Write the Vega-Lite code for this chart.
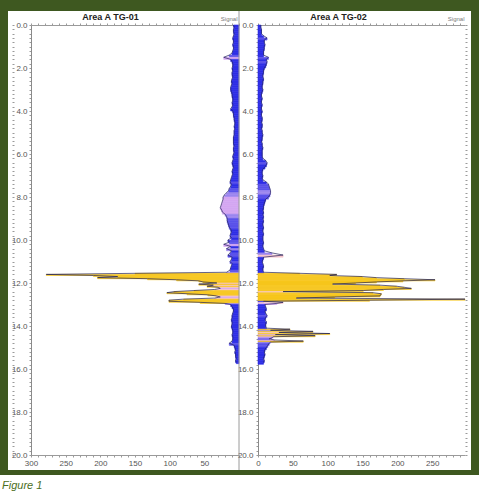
{
"$schema":"https://vega.github.io/schema/vega-lite/v6.json",
"background":"#3e5820",
"padding":{"top":10,"left":0,"right":0,"bottom":0},
"spacing":4,
"center":true,
"config":{"font":"Liberation Sans","axis":{"grid":false,"labelFont":"Liberation Sans","titleFont":"Liberation Sans","labelFlush":false,"labelOverlap":false,"domainColor":"#9a9a9a","tickColor":"#9a9a9a","labelColor":"#555555","labelFontSize":8}},
"datasets":{
"a":[{"d":0,"e":0.1,"v":8},{"d":0.1,"e":0.2,"v":7},{"d":0.2,"e":0.3,"v":8},{"d":0.3,"e":0.4,"v":8},{"d":0.4,"e":0.5,"v":7},{"d":0.5,"e":0.6,"v":8},{"d":0.6,"e":0.7,"v":9},{"d":0.7,"e":0.8,"v":8},{"d":0.8,"e":0.9,"v":8},{"d":0.9,"e":1,"v":9},{"d":1,"e":1.1,"v":8},{"d":1.1,"e":1.2,"v":8},{"d":1.2,"e":1.3,"v":9},{"d":1.3,"e":1.4,"v":10},{"d":1.4,"e":1.5,"v":14},{"d":1.5,"e":1.6,"v":22},{"d":1.6,"e":1.7,"v":12},{"d":1.7,"e":1.8,"v":10},{"d":1.8,"e":1.9,"v":9},{"d":1.9,"e":2,"v":9},{"d":2,"e":2.1,"v":10},{"d":2.1,"e":2.2,"v":9},{"d":2.2,"e":2.3,"v":10},{"d":2.3,"e":2.4,"v":10},{"d":2.4,"e":2.5,"v":9},{"d":2.5,"e":2.6,"v":10},{"d":2.6,"e":2.7,"v":11},{"d":2.7,"e":2.8,"v":10},{"d":2.8,"e":2.9,"v":11},{"d":2.9,"e":3,"v":12},{"d":3,"e":3.1,"v":12},{"d":3.1,"e":3.2,"v":11},{"d":3.2,"e":3.3,"v":10},{"d":3.3,"e":3.4,"v":10},{"d":3.4,"e":3.5,"v":9},{"d":3.5,"e":3.6,"v":9},{"d":3.6,"e":3.7,"v":10},{"d":3.7,"e":3.8,"v":9},{"d":3.8,"e":3.9,"v":10},{"d":3.9,"e":4,"v":12},{"d":4,"e":4.1,"v":9},{"d":4.1,"e":4.2,"v":8},{"d":4.2,"e":4.3,"v":8},{"d":4.3,"e":4.4,"v":7},{"d":4.4,"e":4.5,"v":7},{"d":4.5,"e":4.6,"v":6},{"d":4.6,"e":4.7,"v":6},{"d":4.7,"e":4.8,"v":7},{"d":4.8,"e":4.9,"v":6},{"d":4.9,"e":5,"v":7},{"d":5,"e":5.1,"v":7},{"d":5.1,"e":5.2,"v":7},{"d":5.2,"e":5.3,"v":8},{"d":5.3,"e":5.4,"v":8},{"d":5.4,"e":5.5,"v":8},{"d":5.5,"e":5.6,"v":8},{"d":5.6,"e":5.7,"v":7},{"d":5.7,"e":5.8,"v":8},{"d":5.8,"e":5.9,"v":8},{"d":5.9,"e":6,"v":7},{"d":6,"e":6.1,"v":8},{"d":6.1,"e":6.2,"v":9},{"d":6.2,"e":6.3,"v":8},{"d":6.3,"e":6.4,"v":9},{"d":6.4,"e":6.5,"v":10},{"d":6.5,"e":6.6,"v":9},{"d":6.6,"e":6.7,"v":8},{"d":6.7,"e":6.8,"v":9},{"d":6.8,"e":6.9,"v":10},{"d":6.9,"e":7,"v":9},{"d":7,"e":7.1,"v":10},{"d":7.1,"e":7.2,"v":11},{"d":7.2,"e":7.3,"v":12},{"d":7.3,"e":7.4,"v":13},{"d":7.4,"e":7.5,"v":11},{"d":7.5,"e":7.6,"v":12},{"d":7.6,"e":7.7,"v":14},{"d":7.7,"e":7.8,"v":15},{"d":7.8,"e":7.9,"v":18},{"d":7.9,"e":8,"v":21},{"d":8,"e":8.1,"v":23},{"d":8.1,"e":8.2,"v":23},{"d":8.2,"e":8.3,"v":24},{"d":8.3,"e":8.4,"v":25},{"d":8.4,"e":8.5,"v":26},{"d":8.5,"e":8.6,"v":27},{"d":8.6,"e":8.7,"v":25},{"d":8.7,"e":8.8,"v":24},{"d":8.8,"e":8.9,"v":20},{"d":8.9,"e":9,"v":18},{"d":9,"e":9.1,"v":17},{"d":9.1,"e":9.2,"v":17},{"d":9.2,"e":9.3,"v":16},{"d":9.3,"e":9.4,"v":15},{"d":9.4,"e":9.5,"v":14},{"d":9.5,"e":9.6,"v":12},{"d":9.6,"e":9.7,"v":11},{"d":9.7,"e":9.8,"v":12},{"d":9.8,"e":9.9,"v":13},{"d":9.9,"e":10,"v":11},{"d":10,"e":10.1,"v":16},{"d":10.1,"e":10.2,"v":14},{"d":10.2,"e":10.3,"v":22},{"d":10.3,"e":10.4,"v":12},{"d":10.4,"e":10.5,"v":18},{"d":10.5,"e":10.6,"v":11},{"d":10.6,"e":10.7,"v":13},{"d":10.7,"e":10.8,"v":16},{"d":10.8,"e":10.9,"v":10},{"d":10.9,"e":11,"v":11},{"d":11,"e":11.1,"v":13},{"d":11.1,"e":11.2,"v":10},{"d":11.2,"e":11.3,"v":11},{"d":11.3,"e":11.4,"v":12},{"d":11.4,"e":11.5,"v":13},{"d":11.5,"e":11.55,"v":18},{"d":11.55,"e":11.6,"v":150},{"d":11.6,"e":11.65,"v":278},{"d":11.65,"e":11.7,"v":210},{"d":11.7,"e":11.75,"v":175},{"d":11.75,"e":11.8,"v":204},{"d":11.8,"e":11.85,"v":132},{"d":11.85,"e":11.9,"v":90},{"d":11.9,"e":11.95,"v":58},{"d":11.95,"e":12,"v":52},{"d":12,"e":12.05,"v":32},{"d":12.05,"e":12.1,"v":58},{"d":12.1,"e":12.15,"v":37},{"d":12.15,"e":12.2,"v":46},{"d":12.2,"e":12.25,"v":30},{"d":12.25,"e":12.3,"v":27},{"d":12.3,"e":12.35,"v":35},{"d":12.35,"e":12.4,"v":65},{"d":12.4,"e":12.45,"v":94},{"d":12.45,"e":12.5,"v":104},{"d":12.5,"e":12.55,"v":75},{"d":12.55,"e":12.6,"v":45},{"d":12.6,"e":12.65,"v":33},{"d":12.65,"e":12.7,"v":27},{"d":12.7,"e":12.75,"v":35},{"d":12.75,"e":12.8,"v":80},{"d":12.8,"e":12.85,"v":101},{"d":12.85,"e":12.9,"v":101},{"d":12.9,"e":12.95,"v":56},{"d":12.95,"e":13,"v":20},{"d":13,"e":13.1,"v":12},{"d":13.1,"e":13.2,"v":10},{"d":13.2,"e":13.3,"v":8},{"d":13.3,"e":13.4,"v":8},{"d":13.4,"e":13.5,"v":9},{"d":13.5,"e":13.6,"v":10},{"d":13.6,"e":13.7,"v":10},{"d":13.7,"e":13.8,"v":11},{"d":13.8,"e":13.9,"v":10},{"d":13.9,"e":14,"v":10},{"d":14,"e":14.1,"v":11},{"d":14.1,"e":14.2,"v":10},{"d":14.2,"e":14.3,"v":9},{"d":14.3,"e":14.4,"v":9},{"d":14.4,"e":14.5,"v":10},{"d":14.5,"e":14.6,"v":9},{"d":14.6,"e":14.7,"v":9},{"d":14.7,"e":14.8,"v":10},{"d":14.8,"e":14.9,"v":14},{"d":14.9,"e":15,"v":7},{"d":15,"e":15.1,"v":6},{"d":15.1,"e":15.2,"v":5},{"d":15.2,"e":15.3,"v":6},{"d":15.3,"e":15.4,"v":5},{"d":15.4,"e":15.5,"v":5},{"d":15.5,"e":15.6,"v":4},{"d":15.6,"e":15.7,"v":5},{"d":15.7,"e":15.75,"v":4}],
"b":[{"d":0,"e":0.1,"v":4},{"d":0.1,"e":0.2,"v":4},{"d":0.2,"e":0.3,"v":5},{"d":0.3,"e":0.4,"v":5},{"d":0.4,"e":0.5,"v":5},{"d":0.5,"e":0.6,"v":8},{"d":0.6,"e":0.7,"v":13},{"d":0.7,"e":0.8,"v":9},{"d":0.8,"e":0.9,"v":9},{"d":0.9,"e":1,"v":10},{"d":1,"e":1.1,"v":9},{"d":1.1,"e":1.2,"v":9},{"d":1.2,"e":1.3,"v":8},{"d":1.3,"e":1.4,"v":8},{"d":1.4,"e":1.5,"v":8},{"d":1.5,"e":1.6,"v":15},{"d":1.6,"e":1.7,"v":12},{"d":1.7,"e":1.8,"v":13},{"d":1.8,"e":1.9,"v":12},{"d":1.9,"e":2,"v":11},{"d":2,"e":2.1,"v":9},{"d":2.1,"e":2.2,"v":8},{"d":2.2,"e":2.3,"v":8},{"d":2.3,"e":2.4,"v":7},{"d":2.4,"e":2.5,"v":7},{"d":2.5,"e":2.6,"v":8},{"d":2.6,"e":2.7,"v":7},{"d":2.7,"e":2.8,"v":7},{"d":2.8,"e":2.9,"v":6},{"d":2.9,"e":3,"v":6},{"d":3,"e":3.1,"v":7},{"d":3.1,"e":3.2,"v":6},{"d":3.2,"e":3.3,"v":5},{"d":3.3,"e":3.4,"v":5},{"d":3.4,"e":3.5,"v":6},{"d":3.5,"e":3.6,"v":5},{"d":3.6,"e":3.7,"v":5},{"d":3.7,"e":3.8,"v":6},{"d":3.8,"e":3.9,"v":5},{"d":3.9,"e":4,"v":5},{"d":4,"e":4.1,"v":6},{"d":4.1,"e":4.2,"v":5},{"d":4.2,"e":4.3,"v":5},{"d":4.3,"e":4.4,"v":6},{"d":4.4,"e":4.5,"v":6},{"d":4.5,"e":4.6,"v":5},{"d":4.6,"e":4.7,"v":6},{"d":4.7,"e":4.8,"v":6},{"d":4.8,"e":4.9,"v":5},{"d":4.9,"e":5,"v":6},{"d":5,"e":5.1,"v":6},{"d":5.1,"e":5.2,"v":7},{"d":5.2,"e":5.3,"v":6},{"d":5.3,"e":5.4,"v":6},{"d":5.4,"e":5.5,"v":5},{"d":5.5,"e":5.6,"v":6},{"d":5.6,"e":5.7,"v":6},{"d":5.7,"e":5.8,"v":7},{"d":5.8,"e":5.9,"v":6},{"d":5.9,"e":6,"v":6},{"d":6,"e":6.1,"v":6},{"d":6.1,"e":6.2,"v":6},{"d":6.2,"e":6.3,"v":7},{"d":6.3,"e":6.4,"v":11},{"d":6.4,"e":6.5,"v":13},{"d":6.5,"e":6.6,"v":12},{"d":6.6,"e":6.7,"v":10},{"d":6.7,"e":6.8,"v":7},{"d":6.8,"e":6.9,"v":6},{"d":6.9,"e":7,"v":6},{"d":7,"e":7.1,"v":7},{"d":7.1,"e":7.2,"v":6},{"d":7.2,"e":7.3,"v":7},{"d":7.3,"e":7.4,"v":12},{"d":7.4,"e":7.5,"v":15},{"d":7.5,"e":7.6,"v":16},{"d":7.6,"e":7.7,"v":17},{"d":7.7,"e":7.8,"v":18},{"d":7.8,"e":7.9,"v":18},{"d":7.9,"e":8,"v":17},{"d":8,"e":8.1,"v":15},{"d":8.1,"e":8.2,"v":11},{"d":8.2,"e":8.3,"v":10},{"d":8.3,"e":8.4,"v":9},{"d":8.4,"e":8.5,"v":8},{"d":8.5,"e":8.6,"v":8},{"d":8.6,"e":8.7,"v":7},{"d":8.7,"e":8.8,"v":8},{"d":8.8,"e":8.9,"v":7},{"d":8.9,"e":9,"v":8},{"d":9,"e":9.1,"v":7},{"d":9.1,"e":9.2,"v":8},{"d":9.2,"e":9.3,"v":7},{"d":9.3,"e":9.4,"v":7},{"d":9.4,"e":9.5,"v":8},{"d":9.5,"e":9.6,"v":7},{"d":9.6,"e":9.7,"v":7},{"d":9.7,"e":9.8,"v":8},{"d":9.8,"e":9.9,"v":7},{"d":9.9,"e":10,"v":7},{"d":10,"e":10.1,"v":7},{"d":10.1,"e":10.2,"v":8},{"d":10.2,"e":10.3,"v":7},{"d":10.3,"e":10.4,"v":7},{"d":10.4,"e":10.5,"v":8},{"d":10.5,"e":10.6,"v":9},{"d":10.6,"e":10.7,"v":20},{"d":10.7,"e":10.8,"v":36},{"d":10.8,"e":10.9,"v":8},{"d":10.9,"e":11,"v":7},{"d":11,"e":11.1,"v":6},{"d":11.1,"e":11.2,"v":7},{"d":11.2,"e":11.3,"v":8},{"d":11.3,"e":11.4,"v":7},{"d":11.4,"e":11.5,"v":7},{"d":11.5,"e":11.55,"v":8},{"d":11.55,"e":11.6,"v":60},{"d":11.6,"e":11.65,"v":113},{"d":11.65,"e":11.7,"v":103},{"d":11.7,"e":11.75,"v":150},{"d":11.75,"e":11.8,"v":170},{"d":11.8,"e":11.85,"v":210},{"d":11.85,"e":11.9,"v":254},{"d":11.9,"e":11.95,"v":208},{"d":11.95,"e":12,"v":170},{"d":12,"e":12.05,"v":140},{"d":12.05,"e":12.1,"v":107},{"d":12.1,"e":12.15,"v":175},{"d":12.15,"e":12.2,"v":199},{"d":12.2,"e":12.25,"v":210},{"d":12.25,"e":12.3,"v":220},{"d":12.3,"e":12.35,"v":180},{"d":12.35,"e":12.4,"v":151},{"d":12.4,"e":12.45,"v":36},{"d":12.45,"e":12.5,"v":165},{"d":12.5,"e":12.55,"v":177},{"d":12.55,"e":12.6,"v":176},{"d":12.6,"e":12.65,"v":175},{"d":12.65,"e":12.7,"v":110},{"d":12.7,"e":12.75,"v":55},{"d":12.75,"e":12.8,"v":297},{"d":12.8,"e":12.85,"v":160},{"d":12.85,"e":12.9,"v":8},{"d":12.9,"e":12.95,"v":36},{"d":12.95,"e":13,"v":27},{"d":13,"e":13.1,"v":10},{"d":13.1,"e":13.2,"v":11},{"d":13.2,"e":13.3,"v":12},{"d":13.3,"e":13.4,"v":10},{"d":13.4,"e":13.5,"v":11},{"d":13.5,"e":13.6,"v":13},{"d":13.6,"e":13.7,"v":11},{"d":13.7,"e":13.8,"v":10},{"d":13.8,"e":13.9,"v":12},{"d":13.9,"e":14,"v":11},{"d":14,"e":14.1,"v":11},{"d":14.1,"e":14.15,"v":12},{"d":14.15,"e":14.2,"v":46},{"d":14.2,"e":14.25,"v":18},{"d":14.25,"e":14.3,"v":79},{"d":14.3,"e":14.35,"v":30},{"d":14.35,"e":14.4,"v":103},{"d":14.4,"e":14.45,"v":25},{"d":14.45,"e":14.5,"v":82},{"d":14.5,"e":14.55,"v":22},{"d":14.55,"e":14.6,"v":20},{"d":14.6,"e":14.65,"v":16},{"d":14.65,"e":14.7,"v":24},{"d":14.7,"e":14.75,"v":65},{"d":14.75,"e":14.8,"v":18},{"d":14.8,"e":14.9,"v":16},{"d":14.9,"e":15,"v":14},{"d":15,"e":15.1,"v":12},{"d":15.1,"e":15.2,"v":10},{"d":15.2,"e":15.3,"v":9},{"d":15.3,"e":15.4,"v":10},{"d":15.4,"e":15.5,"v":9},{"d":15.5,"e":15.6,"v":8},{"d":15.6,"e":15.7,"v":9},{"d":15.7,"e":15.78,"v":8}]
},
"vconcat":[
{
"width":463,"height":459,
"view":{"fill":"white","stroke":null},
"resolve":{"scale":{"x":"independent"},"axis":{"x":"independent","y":"independent"}},
"layer":[
{
"data":{"name":"a"},
"resolve":{"axis":{"x":"independent","y":"independent"}},
"layer":[
{"mark":{"type":"rect","strokeWidth":0.6},
"encoding":{
"y":{"field":"d","type":"quantitative","scale":{"domain":[0,20],"range":[14,444],"nice":false,"zero":false},"axis":{"orient":"left","offset":-23,"tickCount":100,"tickSize":2,"labelPadding":2,"labelExpr":"datum.value % 2 === 0 ? format(datum.value, '.1f') : ''","title":null,"domainColor":"#8a8a8a"}},
"y2":{"field":"e"},
"x":{"field":"v","type":"quantitative","scale":{"domain":[300,0],"range":[23,231],"nice":false,"zero":false},"axis":{"orient":"bottom","offset":-15,"tickCount":30,"tickSize":2,"labelPadding":2,"labelExpr":"datum.value % 50 === 0 && datum.value > 0 ? datum.label : ''","title":null}},
"x2":{"datum":0},
"color":{"field":"v","type":"quantitative","scale":{"type":"threshold","domain":[13,18,22,28,45],"range":["#2e2ee6","#5a52ea","#9c86ef","#d4a6f2","#f7c6cc","#f6c61c"]},"legend":null},
"stroke":{"field":"v","type":"quantitative","scale":{"type":"threshold","domain":[13,18,22,28,45],"range":["#2e2ee6","#5a52ea","#9c86ef","#d4a6f2","#f7c6cc","#f6c61c"]},"legend":null}
}},
{"mark":{"type":"line","color":"#24245a","strokeWidth":0.7},
"encoding":{
"y":{"field":"d","type":"quantitative","scale":{"domain":[0,20],"range":[14,444],"nice":false,"zero":false},"axis":{"orient":"left","offset":-6,"tickCount":100,"tickSize":2,"labels":false,"domain":false,"title":null}},
"x":{"field":"v","type":"quantitative","scale":{"domain":[300,0],"range":[23,231],"nice":false,"zero":false},"axis":{"orient":"top","offset":-14,"tickCount":30,"tickSize":2,"labels":false,"title":"Area A TG-01","titleX":102,"titleY":-5.5,"titleBaseline":"alphabetic","titleFontSize":9,"titleFontWeight":"bold","titleColor":"#222222"}},
"order":{"field":"d","type":"quantitative"}
}},
{"data":{"values":[{"k":0}]},
"mark":{"type":"rule","color":"#9a9a9a","strokeWidth":1},
"encoding":{
"x":{"datum":0,"type":"quantitative","scale":{"domain":[300,0],"range":[23,231],"nice":false,"zero":false},"axis":{"orient":"top","offset":-14,"labels":false,"ticks":false,"domain":false,"title":"Signal","titleX":229,"titleY":-4.5,"titleAlign":"right","titleBaseline":"alphabetic","titleFontSize":6,"titleFontWeight":"normal","titleColor":"#777777"}}
}}
]
},
{
"data":{"name":"b"},
"resolve":{"axis":{"x":"independent","y":"independent"}},
"layer":[
{"mark":{"type":"rect","strokeWidth":0.6},
"encoding":{
"y":{"field":"d","type":"quantitative","scale":{"domain":[0,20],"range":[14,444],"nice":false,"zero":false},"axis":{"orient":"left","offset":-250,"tickCount":100,"tickSize":2,"labelPadding":3,"labelExpr":"datum.value % 2 === 0 ? format(datum.value, '.1f') : ''","title":null,"domainColor":"#8a8a8a"}},
"y2":{"field":"e"},
"x":{"field":"v","type":"quantitative","scale":{"domain":[0,297],"range":[250,457],"nice":false,"zero":false},"axis":{"orient":"bottom","offset":-15,"tickCount":30,"tickSize":2,"labelPadding":2,"labelExpr":"datum.value % 50 === 0 ? datum.label : ''","title":null}},
"x2":{"datum":0},
"color":{"field":"v","type":"quantitative","scale":{"type":"threshold","domain":[13,18,22,28,45],"range":["#2e2ee6","#5a52ea","#9c86ef","#d4a6f2","#f7c6cc","#f6c61c"]},"legend":null},
"stroke":{"field":"v","type":"quantitative","scale":{"type":"threshold","domain":[13,18,22,28,45],"range":["#2e2ee6","#5a52ea","#9c86ef","#d4a6f2","#f7c6cc","#f6c61c"]},"legend":null}
}},
{"mark":{"type":"line","color":"#24245a","strokeWidth":0.7},
"encoding":{
"y":{"field":"d","type":"quantitative","scale":{"domain":[0,20],"range":[14,444],"nice":false,"zero":false},"axis":{"orient":"right","offset":-6,"tickCount":100,"tickSize":2,"labels":false,"domain":false,"title":"Signal","titleAngle":0,"titleX":-1,"titleY":9.5,"titleAlign":"right","titleBaseline":"alphabetic","titleFontSize":6,"titleFontWeight":"normal","titleColor":"#777777"}},
"x":{"field":"v","type":"quantitative","scale":{"domain":[0,297],"range":[250,457],"nice":false,"zero":false},"axis":{"orient":"top","offset":-14,"tickCount":30,"tickSize":2,"labels":false,"title":"Area A TG-02","titleX":330,"titleY":-5.5,"titleBaseline":"alphabetic","titleFontSize":9,"titleFontWeight":"bold","titleColor":"#222222"}},
"order":{"field":"d","type":"quantitative"}
}}
]
}
]
},
{
"width":479,"height":26,
"view":{"fill":"white","stroke":null},
"data":{"values":[{"x":0,"t":"Figure 1"}]},
"mark":{"type":"text","align":"left","baseline":"middle","fontStyle":"italic","fontSize":11,"color":"#4b6e22","dx":2,"dy":-2},
"encoding":{"x":{"field":"x","type":"quantitative","scale":{"domain":[0,100]},"axis":null},"text":{"field":"t"}}
}
]
}
